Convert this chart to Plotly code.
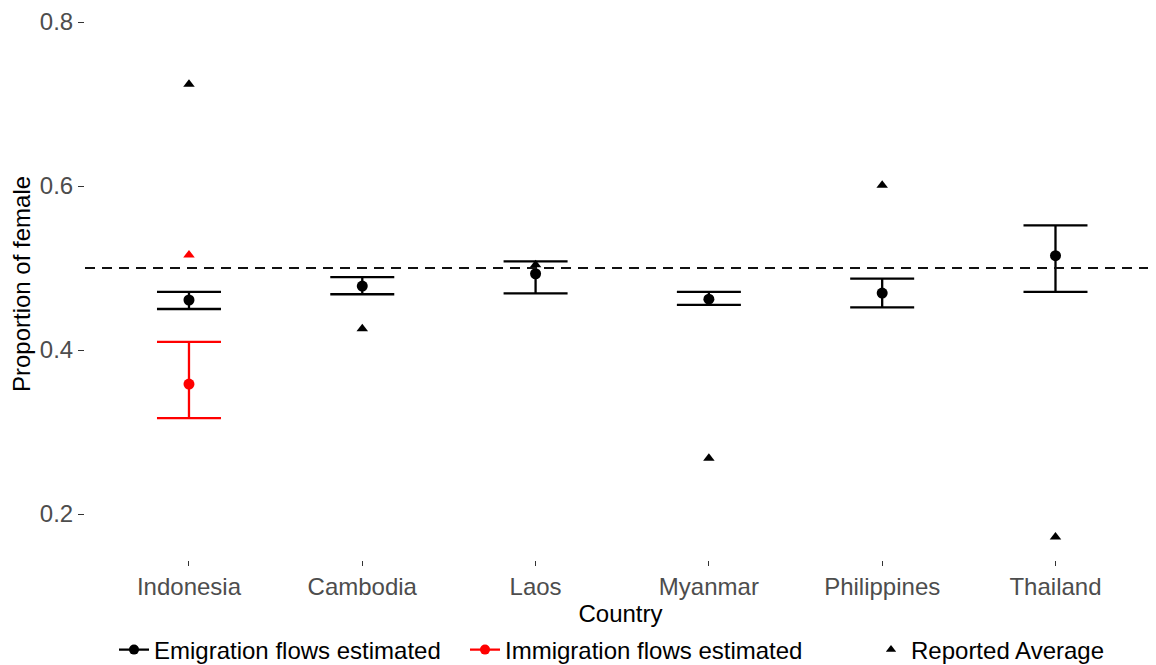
import plotly.graph_objects as go

countries = ["Indonesia", "Cambodia", "Laos", "Myanmar", "Philippines", "Thailand"]

# Emigration flows estimated (black)
emig_est = [0.461, 0.478, 0.493, 0.462, 0.4695, 0.515]
emig_upper = [0.471, 0.489, 0.508, 0.471, 0.487, 0.552]
emig_lower = [0.450, 0.468, 0.469, 0.455, 0.452, 0.471]
emig_reported = [0.724, 0.426, 0.504, 0.268, 0.601, 0.172]

# Immigration flows estimated (red)
immig_countries = ["Indonesia"]
immig_est = [0.3585]
immig_upper = [0.410]
immig_lower = [0.317]
immig_reported = [0.516]

reference_line = 0.5

FONT = "Liberation Sans, Arial, sans-serif"
FS = 24

fig = go.Figure()

def add_est(xs, est, up, lo, color):
    fig.add_trace(go.Scatter(
        x=xs, y=est, mode="markers", showlegend=False,
        marker=dict(color=color, size=11, symbol="circle"),
        error_y=dict(type="data", symmetric=False,
                     array=[u - e for u, e in zip(up, est)],
                     arrayminus=[e - l for e, l in zip(est, lo)],
                     color=color, thickness=2.3, width=32),
        hoverinfo="x+y"))

add_est(countries, emig_est, emig_upper, emig_lower, "black")
add_est(immig_countries, immig_est, immig_upper, immig_lower, "red")

fig.add_trace(go.Scatter(x=countries, y=emig_reported, mode="markers", showlegend=False,
                         marker=dict(color="black", size=10, symbol="triangle-up")))
fig.add_trace(go.Scatter(x=immig_countries, y=immig_reported, mode="markers", showlegend=False,
                         marker=dict(color="red", size=10, symbol="triangle-up")))

# legend entries
fig.add_trace(go.Scatter(x=[None], y=[None], mode="lines+markers", name="Emigration flows estimated",
                         line=dict(color="black", width=2.3), marker=dict(color="black", size=10),
                         legend="legend"))
fig.add_trace(go.Scatter(x=[None], y=[None], mode="lines+markers", name="Immigration flows estimated",
                         line=dict(color="red", width=2.3), marker=dict(color="red", size=10),
                         legend="legend2"))
fig.add_trace(go.Scatter(x=[None], y=[None], mode="markers", name="Reported Average",
                         marker=dict(color="black", size=9, symbol="triangle-up"),
                         legend="legend3"))

fig.add_shape(type="line", xref="paper", x0=0, x1=1, yref="y", y0=reference_line, y1=reference_line,
              line=dict(color="#111111", width=2, dash="10px,7px"))

W, H = 1148, 657
leg_common = dict(orientation="h", xref="container", yref="container", xanchor="left",
                  y=0.0228, yanchor="middle", font=dict(size=FS, color="black"),
                  bgcolor="rgba(0,0,0,0)")

fig.update_layout(
    width=W, height=H,
    margin=dict(l=77, r=0, t=0, b=105, autoexpand=False),
    paper_bgcolor="white", plot_bgcolor="white",
    font=dict(family=FONT, size=FS, color="black"),
    xaxis=dict(type="category", range=[-0.6, 5.58], showgrid=False, zeroline=False,
               showline=False, ticks="outside", ticklen=5, tickwidth=1.2, tickcolor="#333333",
               tickfont=dict(size=FS, color="#4d4d4d"),
               title=dict(text="Country", font=dict(size=FS, color="black"), standoff=0)),
    yaxis=dict(range=[0.1439, 0.8171], showgrid=False, zeroline=False, showline=False,
               tickvals=[0.2, 0.4, 0.6, 0.8], ticktext=["0.2", "0.4", "0.6", "0.8"],
               ticks="outside", ticklen=6, tickwidth=1.2, tickcolor="#333333",
               tickfont=dict(size=FS, color="#4d4d4d"),
               title=dict(text="Proportion of female", font=dict(size=FS, color="black"), standoff=2)),
    legend=dict(x=106 / W, **leg_common),
    legend2=dict(x=457 / W, **leg_common),
    legend3=dict(x=863 / W, **leg_common),
)

fig.write_html("out.html")
